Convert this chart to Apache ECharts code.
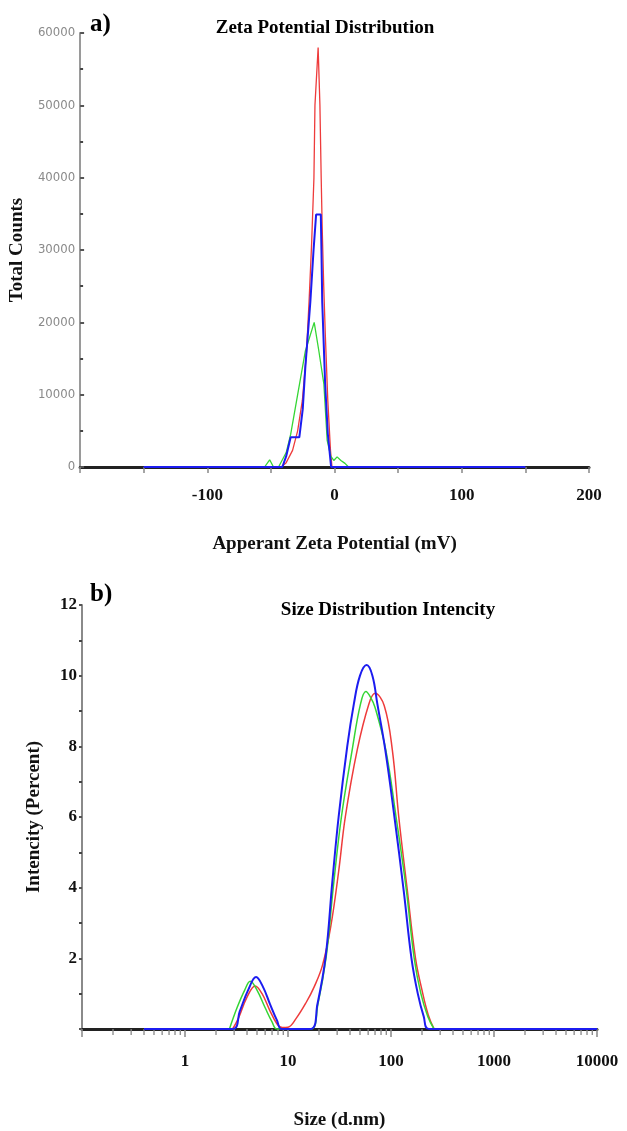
<!DOCTYPE html>
<html>
<head>
<meta charset="utf-8">
<script src="https://cdn.jsdelivr.net/npm/echarts@6/dist/echarts.min.js"></script>
<style>
  html, body { margin: 0; padding: 0; background: #ffffff; }
  #chart { width: 627px; height: 1131px; }
</style>
</head>
<body>
<div id="chart"></div>
<script>
// ---- a) Zeta potential distribution: [mV, total counts] ----
const zetaRed = [
  [-42, 0], [-38, 600], [-33, 2300], [-29, 5000], [-25.3, 9200], [-22, 16000],
  [-20, 23000], [-18, 31000], [-16.2, 40000], [-15.4, 50000], [-12.9, 58000],
  [-11.5, 50000], [-10.5, 40000], [-9.7, 33000], [-8.5, 25000], [-7.2, 18000],
  [-5.3, 9200], [-3.2, 2300], [-2, 0]
];
const zetaGreen = [
  [-55, 0], [-51, 1000], [-48, 0], [-44, 0], [-38, 2000], [-34.5, 4500],
  [-29, 10000], [-23, 16000], [-16, 20000], [-12.3, 16000], [-8.4, 11500],
  [-5.8, 3700], [-3, 1500], [-0.6, 900], [2, 1400], [5, 900], [8.2, 500], [11, 0]
];
const zetaBlue = [
  [-150, 0], [-41, 0], [-38, 1500], [-34.5, 4100], [-27.7, 4100], [-25, 8000],
  [-23, 13700], [-19, 22900], [-16.5, 30000], [-14.5, 34900], [-10.8, 34900],
  [-10.3, 30000], [-9.7, 22900], [-7.4, 11500], [-5.3, 4600], [-2.7, 0], [150, 0]
];

// ---- b) Size distribution by intensity: [d.nm, percent] ----
const sizeRed = [
  [2.9, 0], [3.3, 0.3], [4.0, 0.9], [4.8, 1.22], [5.6, 1.0], [6.6, 0.55],
  [7.8, 0.15], [8.8, 0.04], [10, 0.05], [12, 0.3], [15, 0.75], [18, 1.2],
  [21.6, 1.8], [26, 2.9], [31, 4.45], [36, 6.0], [47, 7.9], [61, 9.2],
  [70, 9.5], [86, 9.15], [103, 7.9], [119, 6.0], [143, 4.0], [173, 2.0],
  [200, 1.1], [230, 0.4], [262, 0]
];
const sizeGreen = [
  [2.7, 0], [3.2, 0.6], [3.8, 1.1], [4.3, 1.35], [5.0, 1.1], [6.0, 0.6],
  [7.0, 0.2], [7.8, 0], [16.6, 0], [19.5, 0.7], [23.5, 2.05], [27.5, 4.0],
  [33, 6.0], [42, 7.9], [50.6, 9.2], [57, 9.55], [63, 9.4], [70, 9.1],
  [89, 7.9], [112, 6.0], [140, 4.0], [168, 2.0], [195, 1.0], [228, 0.35], [262, 0]
];
const sizeBlue = [
  [0.4, 0], [2.9, 0], [3.4, 0.5], [4.1, 1.1], [4.9, 1.47], [5.7, 1.2],
  [6.7, 0.7], [7.8, 0.25], [8.7, 0], [16.6, 0], [19.3, 0.7], [23.2, 2.05],
  [27, 4.2], [31, 6.0], [37.6, 8.0], [43.6, 9.2], [50, 10.0], [58, 10.3],
  [66, 10.0], [73.7, 9.2], [88, 7.9], [108, 6.0], [133, 3.9], [158, 2.0],
  [182, 1.0], [208, 0.35], [234, 0], [10000, 0]
];

// Minor tick positions for the logarithmic size axis
const sizeMinorTicks = [
  0.2, 0.3, 0.4, 0.5, 0.6, 0.7, 0.8, 0.9,
  2, 3, 4, 5, 6, 7, 8, 9,
  20, 30, 40, 50, 60, 70, 80, 90,
  200, 300, 400, 500, 600, 700, 800, 900,
  2000, 3000, 4000, 5000, 6000, 7000, 8000, 9000
];
const sizeTickLabels = ['1', '10', '100', '1000', '10000'];

const SERIF = '"Liberation Serif", "Times New Roman", serif';
const RED = '#ee3b3b';
const GREEN = '#35d635';
const BLUE = '#1c1cf0';

const chart = echarts.init(document.getElementById('chart'), null, { renderer: 'canvas' });

const boldText = (size) => ({ fontFamily: SERIF, fontWeight: 'bold', fontSize: size, color: '#111' });

chart.setOption({
  animation: false,
  backgroundColor: '#ffffff',
  grid: [
    { left: 77, top: 33, width: 512, height: 434 },
    { left: 82, top: 605, width: 515, height: 432 }
  ],
  graphic: [
    { type: 'text', left: 90, top: 12, style: Object.assign({ text: 'a)' }, boldText(25)) },
    { type: 'text', x: 325, y: 28, style: Object.assign({ text: 'Zeta Potential Distribution', align: 'center', verticalAlign: 'middle' }, boldText(19)) },
    { type: 'text', left: 90, top: 582, style: Object.assign({ text: 'b)' }, boldText(25)) },
    { type: 'text', x: 388, y: 610, style: Object.assign({ text: 'Size Distribution Intencity', align: 'center', verticalAlign: 'middle' }, boldText(19)) }
  ],
  xAxis: [
    {
      gridIndex: 0, type: 'value', min: -200, max: 200, interval: 50,
      name: 'Apperant Zeta Potential (mV)', nameLocation: 'middle', nameGap: 68,
      nameTextStyle: boldText(19),
      axisLine: { onZero: false, lineStyle: { color: '#222', width: 3 } },
      axisTick: { show: true, length: 6, lineStyle: { color: '#888', width: 1.5 } },
      axisLabel: {
        margin: 20, fontFamily: SERIF, fontWeight: 'bold', fontSize: 17, color: '#111',
        formatter: (v) => (v % 100 === 0 && v > -200) ? String(v) : ''
      },
      splitLine: { show: false }
    },
    {
      gridIndex: 1, type: 'log', logBase: 10, min: 0.1, max: 10000,
      name: 'Size (d.nm)', nameLocation: 'middle', nameGap: 82,
      nameTextStyle: boldText(19),
      axisLine: { onZero: false, lineStyle: { color: '#222', width: 3 } },
      axisTick: { show: true, length: 8, lineStyle: { color: '#888', width: 1.5 } },
      axisLabel: {
        margin: 24, fontFamily: SERIF, fontWeight: 'bold', fontSize: 17, color: '#111',
        formatter: (v) => {
          const s = String(Math.round(v));
          return sizeTickLabels.indexOf(s) >= 0 && v >= 1 ? s : '';
        }
      },
      splitLine: { show: false }
    }
  ],
  yAxis: [
    {
      gridIndex: 0, type: 'value', min: 0, max: 60000, interval: 10000,
      name: 'Total Counts', nameLocation: 'middle', nameGap: 43,
      nameTextStyle: boldText(19),
      axisLine: { show: true, onZero: false, lineStyle: { color: '#9a9a9a', width: 2 } },
      axisTick: { show: true, inside: true, length: 4, lineStyle: { color: '#555', width: 2 } },
      minorTick: { show: true, splitNumber: 2, length: 3, lineStyle: { color: '#444', width: 2 } },
      axisLabel: {
        margin: 5, fontFamily: '"DejaVu Sans Condensed", "Liberation Sans Narrow", "DejaVu Sans", sans-serif',
        fontSize: 13, color: '#8a8a8a',
        formatter: (v) => String(v)
      },
      splitLine: { show: false }
    },
    {
      gridIndex: 1, type: 'value', min: 0, max: 12, interval: 2,
      name: 'Intencity (Percent)', nameLocation: 'middle', nameGap: 38,
      nameTextStyle: boldText(19),
      axisLine: { show: true, onZero: false, lineStyle: { color: '#8a8a8a', width: 2 } },
      axisTick: { show: true, length: 3, lineStyle: { color: '#555', width: 2 } },
      minorTick: { show: true, splitNumber: 2, length: 3, lineStyle: { color: '#444', width: 2 } },
      axisLabel: {
        margin: 5, fontFamily: SERIF, fontWeight: 'bold', fontSize: 17, color: '#111',
        formatter: (v) => v === 0 ? '' : String(v)
      },
      splitLine: { show: false }
    }
  ],
  series: [
    // a) zeta potential curves
    { type: 'line', xAxisIndex: 0, yAxisIndex: 0, data: zetaRed, showSymbol: false,
      lineStyle: { color: RED, width: 1.3 }, z: 3 },
    { type: 'line', xAxisIndex: 0, yAxisIndex: 0, data: zetaGreen, showSymbol: false,
      lineStyle: { color: GREEN, width: 1.3 }, z: 3 },
    { type: 'line', xAxisIndex: 0, yAxisIndex: 0, data: zetaBlue, showSymbol: false,
      lineStyle: { color: BLUE, width: 2 }, z: 4 },
    // b) minor ticks of the log axis
    {
      type: 'custom', xAxisIndex: 1, yAxisIndex: 1, silent: true, clip: false, z: 1,
      data: sizeMinorTicks.map((v) => [v, 0]),
      renderItem: (params, api) => {
        const p = api.coord([api.value(0), 0]);
        return {
          type: 'line',
          shape: { x1: p[0], y1: p[1], x2: p[0], y2: p[1] + 6 },
          style: { stroke: '#888', lineWidth: 1.3 }
        };
      }
    },
    // b) size distribution curves
    { type: 'line', xAxisIndex: 1, yAxisIndex: 1, data: sizeRed, showSymbol: false,
      smooth: 0.4, lineStyle: { color: RED, width: 1.5 }, z: 3 },
    { type: 'line', xAxisIndex: 1, yAxisIndex: 1, data: sizeGreen, showSymbol: false,
      smooth: 0.4, lineStyle: { color: GREEN, width: 1.5 }, z: 3 },
    { type: 'line', xAxisIndex: 1, yAxisIndex: 1, data: sizeBlue, showSymbol: false,
      smooth: 0.4, lineStyle: { color: BLUE, width: 2 }, z: 4 }
  ]
});
</script>
</body>
</html>
